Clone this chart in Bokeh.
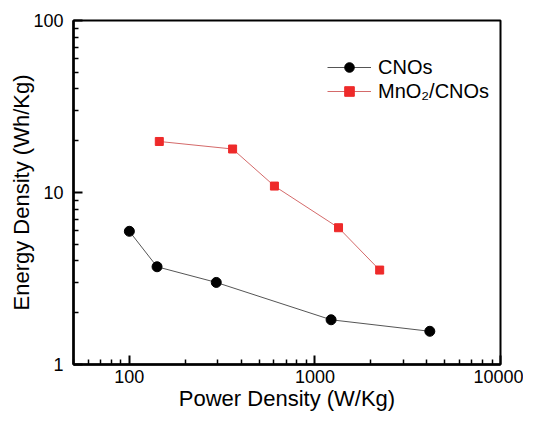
from bokeh.plotting import figure
from bokeh.models import Legend, LegendItem, Range1d, FixedTicker
from bokeh.embed import file_html
from bokeh.resources import INLINE

# Data
cnos_power = [100, 141, 294, 1222, 4160]
cnos_energy = [5.95, 3.70, 3.00, 1.82, 1.56]

mno2_power = [145, 360, 605, 1340, 2233]
mno2_energy = [19.8, 17.9, 10.9, 6.24, 3.54]

x_major = [100, 1000, 10000]
x_minor = [50, 60, 70, 80, 90, 200, 300, 400, 500, 600, 700, 800, 900,
           2000, 3000, 4000, 5000, 6000, 7000, 8000, 9000]
y_major = [1, 10, 100]
y_minor = [2, 3, 4, 5, 6, 7, 8, 9, 20, 30, 40, 50, 60, 70, 80, 90]

FONT = "Liberation Sans"

p = figure(width=523, height=416, x_axis_type="log", y_axis_type="log",
           output_backend="svg", toolbar_location=None,
           min_border_left=73, min_border_right=23, min_border_top=20, min_border_bottom=52)
p.x_range = Range1d(50, 10000)
p.y_range = Range1d(1, 100)
p.xgrid.visible = False
p.ygrid.visible = False
p.outline_line_color = "black"
p.outline_line_width = 2
p.outline_line_alpha = 1

for ax in (p.xaxis[0], p.yaxis[0]):
    ax.axis_line_width = 2.5
    ax.axis_line_color = "black"
    ax.major_tick_in = 9
    ax.major_tick_out = 0
    ax.minor_tick_in = 5
    ax.minor_tick_out = 0
    ax.major_tick_line_width = 2
    ax.minor_tick_line_width = 1.5
    ax.major_label_text_font = FONT
    ax.major_label_text_font_size = "18px"
    ax.major_label_text_color = "black"
    ax.axis_label_text_font = FONT
    ax.axis_label_text_font_size = "22px"
    ax.axis_label_text_font_style = "normal"
    ax.axis_label_text_color = "black"

p.xaxis.ticker = FixedTicker(ticks=x_major, minor_ticks=x_minor)
p.yaxis.ticker = FixedTicker(ticks=y_major, minor_ticks=y_minor)
p.xaxis.major_label_overrides = {100: "100", 1000: "1000", 10000: "10000"}
p.yaxis.major_label_overrides = {1: "1", 10: "10", 100: "100"}
p.xaxis.axis_label = "Power Density (W/Kg)"
p.yaxis.axis_label = "Energy Density (Wh/Kg)"
p.xaxis.major_label_standoff = 5
p.xaxis.axis_label_standoff = 0
p.yaxis.major_label_standoff = 10
p.yaxis.axis_label_standoff = -4

l1 = p.line(cnos_power, cnos_energy, line_color="#555555", line_width=1)
s1 = p.scatter(cnos_power, cnos_energy, marker="circle", size=10,
               fill_color="black", line_color="black")
l2 = p.line(mno2_power, mno2_energy, line_color="#d46a6a", line_width=1)
s2 = p.scatter(mno2_power, mno2_energy, marker="square", size=8,
               fill_color="#ee2a2a", line_color="#ee2a2a")

legend = Legend(items=[LegendItem(label="CNOs", renderers=[l1, s1]),
                       LegendItem(label="MnO\u2082/CNOs", renderers=[l2, s2])],
                location=(254, 261), orientation="vertical")
legend.border_line_color = None
legend.background_fill_alpha = 0
legend.padding = 0
legend.margin = 0
legend.spacing = 0
legend.glyph_width = 44
legend.glyph_height = 24
legend.label_height = 24
legend.label_standoff = 7
legend.label_text_font = FONT
legend.label_text_font_size = "20px"
legend.label_text_color = "black"
p.add_layout(legend, "center")

open("out.html", "w").write(file_html(p, INLINE))
